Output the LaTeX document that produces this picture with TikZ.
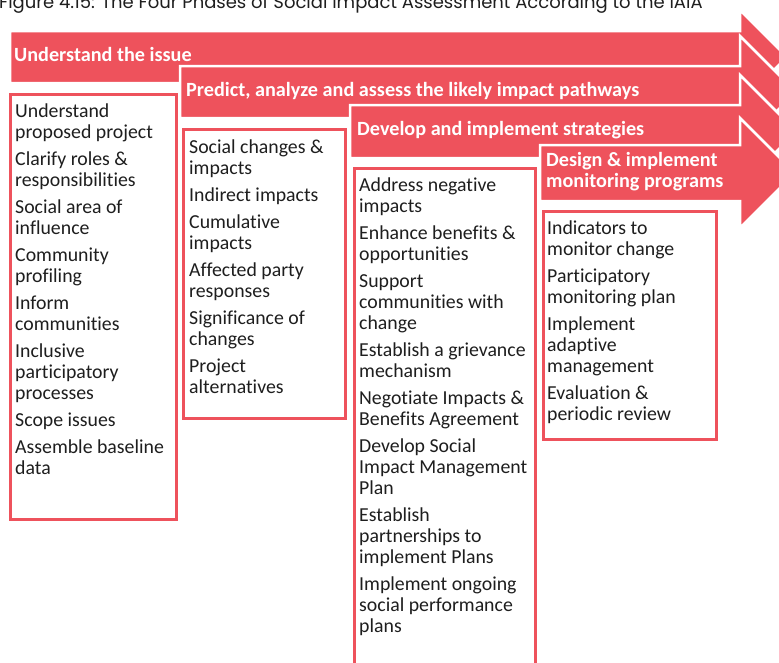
\documentclass[tikz,border=0pt]{standalone}
\usepackage{fontspec}
\setmainfont{Carlito}[Ligatures=NoCommon]
\newfontfamily\titlefont{Poppins}
\usetikzlibrary{positioning}

\definecolor{phasered}{RGB}{238,82,92}
\definecolor{itemgray}{RGB}{30,30,30}

% one phase band with its arrow head: left x, top y, bottom y, head overhang
\newcommand{\phasearrow}[4]{%
	\fill[phasered, draw=white, line width=2.5pt]
	(#1,#2) -- (740,#2) -- (740,#2-#4)
	-- ({740+(#3-#2)/2+#4},{(#2+#3)/2})
	-- (740,#3+#4) -- (740,#3) -- (#1,#3) -- cycle;}

\begin{document}
\begin{tikzpicture}[
	x=1pt, y=-1pt,
	phaselabel/.style={
		text=white,
		font=\bfseries\fontsize{20.2}{21}\selectfont,
		inner sep=0pt,
		anchor=west,
		align=left
	},
	listbox/.style={
		draw=phasered,
		line width=2.8pt,
		fill=white,
		anchor=north west,
		inner sep=0pt
	},
	listtext/.style={
		text=itemgray,
		font=\fontsize{19.8}{21}\selectfont,
		inner sep=0pt,
		align=left
	}
	]
	
	\useasboundingbox (0,0) rectangle (779,662);
	\clip (0,0) rectangle (779,662);
	
	% caption, cut at the top edge
	\node (caption) [anchor=base west, inner sep=0pt, text=itemgray,
	font=\titlefont\fontsize{18}{18}\selectfont] at (-1,8.5)
	{Figure 4.15: The Four Phases of Social Impact Assessment According to the IAIA};
	
	% ======================
	% Phase arrows
	% ======================
	\phasearrow{10}{31}{83}{21}
	\node (issue) [phaselabel] at (14,54) {Understand the issue};
	
	\phasearrow{180}{66}{118}{30}
	\node (predict) [phaselabel] at (186,91) {Predict, analyze and assess the likely impact pathways};
	
	\phasearrow{350}{105}{158}{30}
	\node (develop) [phaselabel] at (357,130) {Develop and implement strategies};
	
	\phasearrow{540}{145}{201}{27}
	\node (design) [phaselabel] at (546,172) {Design \& implement\\monitoring programs};
	
	% ======================
	% Activity boxes
	% ======================
	\node (issuebox) [listbox, minimum width=166pt, minimum height=425pt] at (9,93) {};
	\node (issuetext) [listtext, below right=10.5pt and 6pt of issuebox.north west]
	{Understand\\proposed project\\[6pt]
		Clarify roles \&\\responsibilities\\[6pt]
		Social area of\\influence\\[6pt]
		Community\\profiling\\[6pt]
		Inform\\communities\\[6pt]
		Inclusive\\participatory\\processes\\[6pt]
		Scope issues\\[6pt]
		Assemble baseline\\data};
	
	\node (predictbox) [listbox, minimum width=162pt, minimum height=289pt] at (182,128) {};
	\node (predicttext) [listtext, below right=12pt and 7pt of predictbox.north west]
	{Social changes \&\\impacts\\[6pt]
		Indirect impacts\\[6pt]
		Cumulative\\impacts\\[6pt]
		Affected party\\responses\\[6pt]
		Significance of\\changes\\[6pt]
		Project\\alternatives};
	
	\node (developbox) [listbox, minimum width=181pt, minimum height=520pt] at (353,167) {};
	\node (developtext) [listtext, below right=11pt and 6pt of developbox.north west]
	{Address negative\\impacts\\[6pt]
		Enhance benefits \&\\opportunities\\[6pt]
		Support\\communities with\\change\\[6pt]
		Establish a grievance\\mechanism\\[6pt]
		Negotiate Impacts \&\\Benefits Agreement\\[6pt]
		Develop Social\\Impact Management\\Plan\\[6pt]
		Establish\\partnerships to\\implement Plans\\[6pt]
		Implement ongoing\\social performance\\plans};
	
	\node (designbox) [listbox, minimum width=173pt, minimum height=228pt] at (542,210) {};
	\node (designtext) [listtext, below right=11pt and 5pt of designbox.north west]
	{Indicators to\\monitor change\\[6pt]
		Participatory\\monitoring plan\\[6pt]
		Implement\\adaptive\\management\\[6pt]
		Evaluation \&\\periodic review};
	
\end{tikzpicture}
\end{document}
